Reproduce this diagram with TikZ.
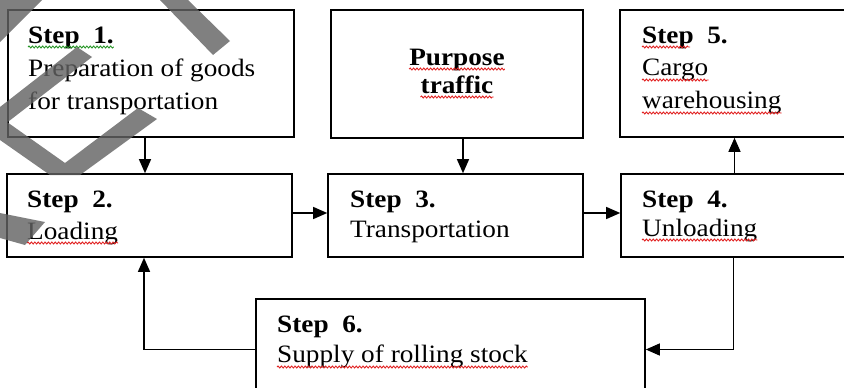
\documentclass[tikz,border=0pt]{standalone}
\usepackage{fontspec}
\setmainfont{Liberation Serif}[FakeStretch=1.09]
\usetikzlibrary{arrows.meta,decorations.pathmorphing}

\definecolor{wmgray}{RGB}{99,99,99}
\definecolor{spellred}{RGB}{225,35,35}
\definecolor{spellgreen}{RGB}{40,150,40}

\begin{document}
\begin{tikzpicture}[x=1pt,y=-1pt,
  box/.style={draw, line width=1.6pt, inner sep=0pt},
  arr/.style={draw, line width=1.3pt, -{Triangle[length=14pt,width=12pt]}},
  txt/.style={anchor=base west, inner sep=0pt, font=\fontsize{25}{30}\selectfont},
  ttl/.style={txt, font=\fontsize{25}{30}\selectfont\bfseries},
  ctitle/.style={anchor=base, inner sep=0pt, font=\fontsize{25}{30}\selectfont\bfseries},
  wavyred/.style={draw=spellred, line width=0.9pt, decorate,
    decoration={snake, amplitude=1pt, segment length=3.4pt}},
  wavygreen/.style={wavyred, draw=spellgreen},
  wmband/.style={fill=wmgray}
]
\useasboundingbox (0,0) rectangle (844,388);
\clip (0,0) rectangle (844,388);

% boxes
\node[box, minimum width=286pt, minimum height=127pt] (b1) at (151,73.5) {};
\node[box, minimum width=285pt, minimum height=83pt]  (b2) at (149.5,215.5) {};
\node[box, minimum width=252pt, minimum height=128pt] (bp) at (457,74) {};
\node[box, minimum width=255pt, minimum height=83pt]  (b3) at (455.5,215.5) {};
\node[box, minimum width=242pt, minimum height=127pt] (b5) at (741,73.5) {};
\node[box, minimum width=241pt, minimum height=83pt]  (b4) at (741.5,215.5) {};
\node[box, minimum width=389pt, minimum height=101pt] (b6) at (450.5,349.5) {};

% texts
\node[ttl] (s1) at (28,43) {Step~~1.};
\node[txt] (l1a) at (28,76) {Preparation of goods};
\node[txt] (l1b) at (28,109) {for transportation};

\node[ttl] (s2) at (27,207) {Step~~2.};
\node[txt] (l2) at (27,239) {Loading};

\node[ctitle] (p1) at (457,65) {Purpose};
\node[ctitle] (p2) at (457,93) {traffic};

\node[ttl] (s3) at (350,207) {Step~~3.};
\node[txt] (l3) at (350,237) {Transportation};

\node[ttl] (s5) at (642,43) {Step~~5.};
\node[txt] (l5a) at (642,75) {Cargo};
\node[txt] (l5b) at (642,108) {warehousing};

\node[ttl] (s4) at (642,207) {Step~~4.};
\node[txt] (l4) at (642,236) {Unloading};

\node[ttl] (s6) at (277,332) {Step~~6.};
\node[txt] (l6) at (277,362) {Supply of rolling stock};

% spelling marks
\draw[wavygreen] ([yshift=-4pt]s1.base west) -- ([yshift=-4pt]s1.base east);
\draw[wavyred] ([yshift=-4pt]l2.base west) -- ([yshift=-4pt]l2.base east);
\draw[wavyred] ([yshift=-4pt]p1.base west) -- ([yshift=-4pt]p1.base east);
\draw[wavyred] ([yshift=-4pt]p2.base west) -- ([yshift=-4pt]p2.base east);
\draw[wavyred] ([yshift=-4pt]s5.base west) -- ([xshift=48pt,yshift=-4pt]s5.base west);
\draw[wavyred] ([yshift=-5pt]l5a.base west) -- ([yshift=-5pt]l5a.base east);
\draw[wavyred] ([yshift=-5pt]l5b.base west) -- ([yshift=-5pt]l5b.base east);
\draw[wavyred] ([yshift=-4pt]l4.base west) -- ([yshift=-4pt]l4.base east);
\draw[wavyred] ([yshift=-5pt]l6.base west) -- ([yshift=-5pt]l6.base east);

% connectors
\draw[arr] ([xshift=-6pt]b1.south) -- ([xshift=-4.5pt]b2.north);
\draw[arr] ([xshift=6pt]bp.south) -- ([xshift=7.5pt]b3.north);
\draw[arr] ([yshift=2.5pt]b2.east) -- ([yshift=2.5pt]b3.west);
\draw[arr] ([yshift=2.5pt]b3.east) -- ([yshift=2.5pt]b4.west);
\draw[arr] ([xshift=-7pt]b4.north) -- ([xshift=-6.5pt]b5.south);
\draw[arr] ([xshift=-8pt]b4.south) |- (b6.east);
\draw[arr] (b6.west) -| ([xshift=-5.5pt]b2.south);

% overlay bands
\begin{scope}[transparency group, opacity=0.81]
\fill[wmband] (0,0) -- (42,0) -- (0,42) -- cycle;
\fill[wmband] (160,0) -- (188,0) -- (230,41) -- (213,55) -- cycle;
\fill[wmband] (77,47) -- (92,57) -- (0,128) -- (0,107) -- cycle;
\fill[wmband] (0,117) -- (65,163) -- (138,108) -- (157,119) -- (80,175)
  -- (50,175) -- (0,140) -- cycle;
\fill[wmband] (0,213) -- (45,222) -- (25,245) -- (0,238) -- cycle;
\end{scope}
\end{tikzpicture}
\end{document}
